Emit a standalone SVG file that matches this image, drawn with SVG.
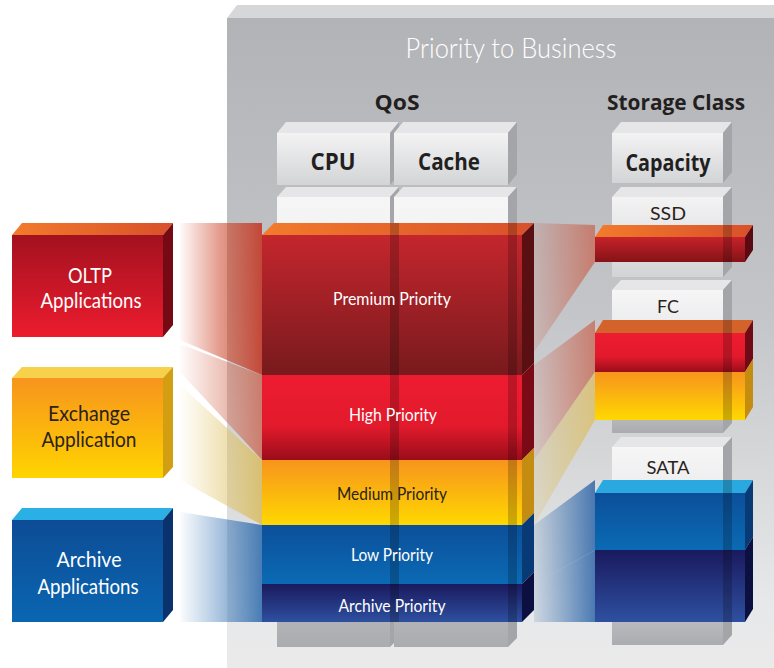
<svg xmlns="http://www.w3.org/2000/svg" width="774" height="668" viewBox="0 0 774 668">
<defs>
<linearGradient id="panelG" x1="0" y1="0" x2="0" y2="1">
<stop offset="0" stop-color="#b2b3b6"/><stop offset="0.45" stop-color="#c4c5c8"/><stop offset="0.9" stop-color="#e7e8e9"/><stop offset="1" stop-color="#eaeaeb"/>
</linearGradient>
<linearGradient id="headF" x1="0" y1="0" x2="0" y2="1"><stop offset="0" stop-color="#f3f3f4"/><stop offset="1" stop-color="#d3d4d6"/></linearGradient>
<linearGradient id="colF" x1="0" y1="0" x2="0" y2="1"><stop offset="0" stop-color="#f6f6f7"/><stop offset="0.6" stop-color="#dcdddf"/><stop offset="1" stop-color="#abacaf"/></linearGradient>
<linearGradient id="premG" x1="0" y1="0" x2="0" y2="1"><stop offset="0" stop-color="#c4262d"/><stop offset="1" stop-color="#781a1d"/></linearGradient>
<linearGradient id="highG" x1="0" y1="0" x2="0" y2="1"><stop offset="0" stop-color="#ee1c30"/><stop offset="0.6" stop-color="#e21a2c"/><stop offset="1" stop-color="#9a0d1a"/></linearGradient>
<linearGradient id="medG" x1="0" y1="0" x2="0" y2="1"><stop offset="0" stop-color="#f7941d"/><stop offset="1" stop-color="#ffd800"/></linearGradient>
<linearGradient id="lowG" x1="0" y1="0" x2="0" y2="1"><stop offset="0" stop-color="#0c4f9a"/><stop offset="1" stop-color="#0b6ab4"/></linearGradient>
<linearGradient id="archG" x1="0" y1="0" x2="0" y2="1"><stop offset="0" stop-color="#1a1a5e"/><stop offset="1" stop-color="#2e50a0"/></linearGradient>
<linearGradient id="ssdG" x1="0" y1="0" x2="0" y2="1"><stop offset="0" stop-color="#c8222a"/><stop offset="1" stop-color="#841317"/></linearGradient>
<linearGradient id="topO" x1="0" y1="0" x2="1" y2="0"><stop offset="0" stop-color="#f27b2b"/><stop offset="1" stop-color="#d9502a"/></linearGradient>
<linearGradient id="oltpF" x1="0" y1="0" x2="0" y2="1"><stop offset="0" stop-color="#a3111f"/><stop offset="1" stop-color="#ec1c2e"/></linearGradient>
<linearGradient id="exF" x1="0" y1="0" x2="0" y2="1"><stop offset="0" stop-color="#f7941d"/><stop offset="1" stop-color="#ffd400"/></linearGradient>
<linearGradient id="arF" x1="0" y1="0" x2="0" y2="1"><stop offset="0" stop-color="#0d4c96"/><stop offset="1" stop-color="#0a66b1"/></linearGradient>
<linearGradient id="fanR" gradientUnits="userSpaceOnUse" x1="178" y1="0" x2="262" y2="0"><stop offset="0" stop-color="#d4482c" stop-opacity="0"/><stop offset="0.5" stop-color="#cc4a2e" stop-opacity="0.55"/><stop offset="1" stop-color="#c23a28" stop-opacity="0.9"/></linearGradient>
<linearGradient id="fanR2" gradientUnits="userSpaceOnUse" x1="178" y1="0" x2="262" y2="0"><stop offset="0" stop-color="#d96a50" stop-opacity="0"/><stop offset="1" stop-color="#c8614a" stop-opacity="0.75"/></linearGradient>
<linearGradient id="fanY" gradientUnits="userSpaceOnUse" x1="178" y1="0" x2="262" y2="0"><stop offset="0" stop-color="#e8cc70" stop-opacity="0"/><stop offset="1" stop-color="#d8bd66" stop-opacity="0.9"/></linearGradient>
<linearGradient id="fanB" gradientUnits="userSpaceOnUse" x1="178" y1="0" x2="262" y2="0"><stop offset="0" stop-color="#4a84c0" stop-opacity="0"/><stop offset="1" stop-color="#3b73b0" stop-opacity="0.92"/></linearGradient>
<linearGradient id="rfanR" gradientUnits="userSpaceOnUse" x1="534" y1="0" x2="595" y2="0"><stop offset="0" stop-color="#c8604a" stop-opacity="0.15"/><stop offset="1" stop-color="#c8604a" stop-opacity="0.7"/></linearGradient>
<linearGradient id="rfanY" gradientUnits="userSpaceOnUse" x1="534" y1="0" x2="595" y2="0"><stop offset="0" stop-color="#dcc06a" stop-opacity="0.2"/><stop offset="1" stop-color="#dcc06a" stop-opacity="0.8"/></linearGradient>
<linearGradient id="rfanB" gradientUnits="userSpaceOnUse" x1="534" y1="0" x2="595" y2="0"><stop offset="0" stop-color="#3b73b0" stop-opacity="0.15"/><stop offset="1" stop-color="#2f66a8" stop-opacity="0.85"/></linearGradient>
</defs>
<style>
.t{font-family:Lato,"Open Sans","Liberation Sans",sans-serif;text-anchor:middle}
.b{font-family:"Open Sans","Liberation Sans",sans-serif;font-weight:700;text-anchor:middle;fill:#231f20}
.w{fill:#ffffff}
.d{fill:#2b2219}
.cs{fill:#a3a5a8}
.ct{fill:#e6e6e8}
.strip{fill:#000000;opacity:0.2}
</style>

<g id="panel">
<polygon points="227,18 237,5 774,5 774,18" fill="#d6d7d9"/>
<rect x="227" y="18" width="547" height="650" fill="url(#panelG)"/>
<text class="t w" x="511" y="58" font-size="27" font-weight="300" textLength="211" lengthAdjust="spacingAndGlyphs">Priority to Business</text>
<text class="b" x="397" y="110" font-size="21" textLength="45" lengthAdjust="spacingAndGlyphs">QoS</text>
<text class="b" x="676" y="110" font-size="21" textLength="138" lengthAdjust="spacingAndGlyphs">Storage Class</text>
</g>

<g id="col-cpu">
<polygon points="277,133 286,122 399,122 390,133" class="ct"/>
<rect x="277" y="133" width="113" height="52" fill="url(#headF)"/>
<polygon points="390,133 399,122 399,174 390,185" class="cs"/>
<text class="b" x="333" y="170" font-size="23" textLength="45" lengthAdjust="spacingAndGlyphs">CPU</text>
<polygon points="277,197 286,187 399,187 390,197" class="ct"/>
<rect x="277" y="197" width="113" height="450" fill="url(#colF)"/>
<polygon points="390,197 399,187 399,638 390,647" class="cs"/>
</g>
<g id="col-cache">
<polygon points="394,133 403,122 517,122 508,133" class="ct"/>
<rect x="394" y="133" width="114" height="52" fill="url(#headF)"/>
<polygon points="508,133 517,122 517,174 508,185" class="cs"/>
<text class="b" x="449" y="170" font-size="23" textLength="62" lengthAdjust="spacingAndGlyphs">Cache</text>
<polygon points="394,197 403,187 517,187 508,197" class="ct"/>
<rect x="394" y="197" width="114" height="450" fill="url(#colF)"/>
<polygon points="508,197 517,187 517,638 508,647" class="cs"/>
</g>
<g id="col-capacity">
<polygon points="612,133 621,122 732,122 723,133" class="ct"/>
<rect x="612" y="133" width="111" height="50" fill="url(#headF)"/>
<polygon points="723,133 732,122 732,172 723,183" class="cs"/>
<text class="b" x="668" y="171" font-size="23" textLength="85" lengthAdjust="spacingAndGlyphs">Capacity</text>
</g>
<g id="col-ssd">
<polygon points="612,197 621,187 732,187 723,197" class="ct"/>
<rect x="612" y="197" width="111" height="80" fill="url(#headF)"/>
<polygon points="723,197 732,187 732,267 723,277" class="cs"/>
<text class="t d" x="668" y="220" font-size="17" textLength="36" lengthAdjust="spacingAndGlyphs">SSD</text>
</g>
<g id="col-fc">
<polygon points="612,290 621,280 732,280 723,290" class="ct"/>
<rect x="612" y="290" width="111" height="143" fill="url(#colF)"/>
<polygon points="723,290 732,280 732,423 723,433" class="cs"/>
<text class="t d" x="668" y="313" font-size="17" textLength="22" lengthAdjust="spacingAndGlyphs">FC</text>
</g>
<g id="col-sata">
<polygon points="612,447 621,437 732,437 723,447" class="ct"/>
<rect x="612" y="447" width="111" height="198" fill="url(#colF)"/>
<polygon points="723,447 732,437 732,635 723,645" class="cs"/>
<text class="t d" x="668" y="474" font-size="17" textLength="43" lengthAdjust="spacingAndGlyphs">SATA</text>
</g>

<g id="connectors">
<polygon points="180,223 262,223 262,375 180,340" fill="url(#fanR)"/>
<polygon points="180,344 262,375 262,460 180,372" fill="url(#fanR2)"/>
<polygon points="180,385 262,460 262,525 180,480" fill="url(#fanY)"/>
<polygon points="180,512 262,525 262,622 180,622" fill="url(#fanB)"/>
<polygon points="534,223 595,225 595,262 534,352" fill="url(#rfanR)"/>
<polygon points="534,365 595,320 595,372 534,460" fill="url(#rfanR)"/>
<polygon points="534,460 595,372 595,420 534,525" fill="url(#rfanY)"/>
<polygon points="534,525 595,480 595,550 534,584" fill="url(#rfanB)"/>
<polygon points="534,584 595,550 595,622 534,622" fill="url(#rfanB)"/>
</g>

<g id="oltp">
<polygon points="12,235 22,223 173,223 163,235" fill="url(#topO)"/>
<rect x="12" y="235" width="151" height="102" fill="url(#oltpF)"/>
<polygon points="163,235 173,223 173,325 163,337" fill="#760a14"/>
<text class="t w" x="90" y="283" font-size="22" textLength="44" lengthAdjust="spacingAndGlyphs">OLTP</text>
<text class="t w" x="91" y="308" font-size="22" textLength="101" lengthAdjust="spacingAndGlyphs">Applications</text>
</g>
<g id="exchange">
<polygon points="12,378 22,367 173,367 163,378" fill="#f7d04c"/>
<rect x="12" y="378" width="151" height="100" fill="url(#exF)"/>
<polygon points="163,378 173,367 173,467 163,478" fill="#d29e12"/>
<text class="t d" x="89" y="421" font-size="22" textLength="82" lengthAdjust="spacingAndGlyphs">Exchange</text>
<text class="t d" x="89" y="447" font-size="22" textLength="95" lengthAdjust="spacingAndGlyphs">Application</text>
</g>
<g id="archive">
<polygon points="12,520 22,508 173,508 163,520" fill="#2bb0e6"/>
<rect x="12" y="520" width="151" height="102" fill="url(#arF)"/>
<polygon points="163,520 173,508 173,610 163,622" fill="#0a336e"/>
<text class="t w" x="89" y="567" font-size="22" textLength="65" lengthAdjust="spacingAndGlyphs">Archive</text>
<text class="t w" x="88" y="594" font-size="22" textLength="101" lengthAdjust="spacingAndGlyphs">Applications</text>
</g>

<g id="priority-stack">
<polygon points="262,235 274,223 534,223 522,235" fill="url(#topO)"/>
<rect x="262" y="235" width="260" height="140" fill="url(#premG)"/>
<polygon points="522,235 534,223 534,363 522,375" fill="#5a0f13"/>
<rect x="262" y="375" width="260" height="85" fill="url(#highG)"/>
<polygon points="522,375 534,363 534,448 522,460" fill="#7a0a15"/>
<rect x="262" y="460" width="260" height="65" fill="url(#medG)"/>
<polygon points="522,460 534,448 534,513 522,525" fill="#c48c10"/>
<rect x="262" y="525" width="260" height="59" fill="url(#lowG)"/>
<polygon points="522,525 534,513 534,572 522,584" fill="#083a76"/>
<rect x="262" y="584" width="260" height="38" fill="url(#archG)"/>
<polygon points="522,584 534,572 534,610 522,622" fill="#0b1040"/>
<rect x="390" y="223" width="9" height="399" class="strip"/>
<rect x="508" y="223" width="9" height="399" class="strip"/>
<text class="t w" x="392" y="305" font-size="18" textLength="118" lengthAdjust="spacingAndGlyphs">Premium Priority</text>
<text class="t w" x="393" y="421" font-size="18" textLength="88" lengthAdjust="spacingAndGlyphs">High Priority</text>
<text class="t d" x="392" y="500" font-size="18" textLength="110" lengthAdjust="spacingAndGlyphs">Medium Priority</text>
<text class="t w" x="392" y="561" font-size="18" textLength="82" lengthAdjust="spacingAndGlyphs">Low Priority</text>
<text class="t w" x="392" y="612" font-size="18" textLength="107" lengthAdjust="spacingAndGlyphs">Archive Priority</text>
</g>

<g id="bar-ssd">
<polygon points="595,237 603,225 753,225 745,237" fill="url(#topO)"/>
<rect x="595" y="237" width="150" height="25" fill="url(#ssdG)"/>
<polygon points="745,237 753,225 753,250 745,262" fill="#5a0a10"/>
<rect x="723" y="225" width="9" height="37" class="strip"/>
</g>
<g id="bar-fc">
<polygon points="595,333 603,320 753,320 745,333" fill="#d4632b"/>
<rect x="595" y="333" width="150" height="39" fill="url(#highG)"/>
<polygon points="745,333 753,320 753,359 745,372" fill="#700a14"/>
<rect x="595" y="372" width="150" height="48" fill="url(#medG)"/>
<polygon points="745,372 753,359 753,407 745,420" fill="#c48c10"/>
<rect x="723" y="320" width="9" height="100" class="strip"/>
</g>
<g id="bar-sata">
<polygon points="595,493 603,480 753,480 745,493" fill="#29a9e0"/>
<rect x="595" y="493" width="150" height="57" fill="url(#lowG)"/>
<polygon points="745,493 753,480 753,537 745,550" fill="#083a76"/>
<rect x="595" y="550" width="150" height="72" fill="url(#archG)"/>
<polygon points="745,550 753,537 753,609 745,622" fill="#0b1040"/>
<rect x="723" y="480" width="9" height="142" class="strip"/>
</g>
</svg>
